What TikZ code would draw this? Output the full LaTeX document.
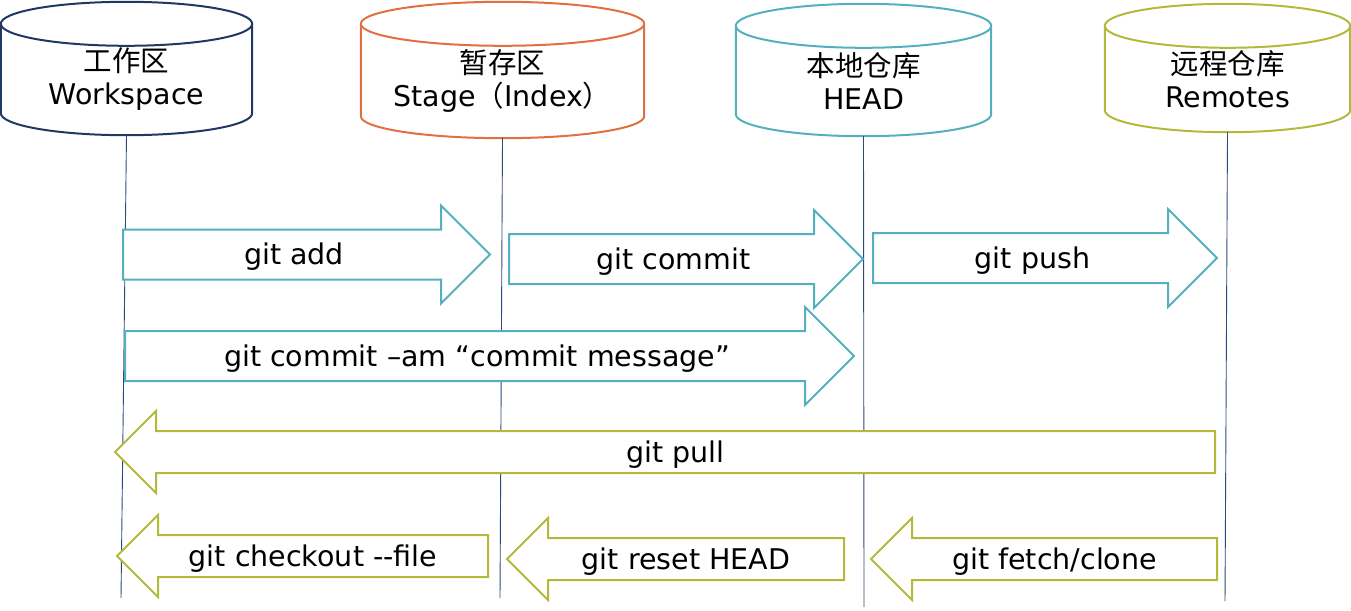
\documentclass[tikz,border=0pt]{standalone}
\usepackage{fontspec}
\setmainfont{DejaVu Sans}
\newfontfamily\cjk{Noto Sans CJK SC}
\usepackage{xcolor}
\usetikzlibrary{calc,shapes.arrows}

\definecolor{navy}{HTML}{203864}
\definecolor{lifeblue}{HTML}{2E4A78}
\definecolor{rustorange}{HTML}{E07040}
\definecolor{tealc}{HTML}{55AFBE}
\definecolor{olivec}{HTML}{B3B93A}

\begin{document}
\begin{tikzpicture}[
  x=1pt, y=-1pt,
  font=\fontsize{28.5}{33}\selectfont,
  store/.style={inner sep=0pt, align=center},
  life/.style={draw=lifeblue, line width=0.9pt},
  fwd/.style={single arrow, single arrow head extend=24pt, single arrow tip angle=90, draw=tealc, line width=2pt, fill=white,
    text height=23pt, text depth=3pt, inner ysep=11pt, inner xsep=0pt, anchor=tail},
  back/.style={single arrow, shape border rotate=180, single arrow head extend=20pt, single arrow tip angle=90, draw=olivec, line width=2pt, fill=white,
    text height=23pt, text depth=3pt, inner ysep=7pt, inner xsep=0pt, anchor=tail}
]
\useasboundingbox (0,0) rectangle (1351,610);

% the four stores (node = body below the top ellipse)
\node[store, minimum width=251pt, minimum height=111pt] (ws) at (126.5,79.5) {{\cjk 工作区}\\Workspace};
\node[store, minimum width=283pt, minimum height=114pt] (st) at (502.5,81) {{\cjk 暂存区}\\Stage{\cjk （}Index{\cjk ）}};
\node[store, minimum width=255pt, minimum height=110pt] (lr) at (863.5,81) {{\cjk 本地仓库}\\HEAD};
\node[store, minimum width=245pt, minimum height=106pt] (rm) at (1227.5,79) {{\cjk 远程仓库}\\Remotes};

\foreach \s/\c in {ws/navy, st/rustorange, lr/tealc, rm/olivec}
  \draw[line width=2pt, draw=\c]
    let \p1=(\s.north west), \p2=(\s.south east), \n1={(\x2-\x1)/2} in
    (\x1,\y1) -- (\x1,\y2+22pt)
    arc[start angle=180, end angle=360, x radius=\n1, y radius=22pt]
    -- (\x2,\y1)
    arc[start angle=0, end angle=180, x radius=\n1, y radius=22pt]
    arc[start angle=180, end angle=360, x radius=\n1, y radius=22pt];

% lifelines
\coordinate (wsend) at (121,598);
\coordinate (stend) at (500,598);
\coordinate (lrend) at (864,607);
\coordinate (rmend) at (1225,601);
\draw[life] (ws.south) -- (wsend);
\draw[life] (st.south) -- (stend);
\draw[life] (lr.south) -- (lrend);
\draw[life] (rm.south) -- (rmend);

% commands
\node[fwd, minimum height=367pt] (add) at (122,254.5) {git add};
\node[fwd, minimum height=354pt] (commit) at (508,259) {git commit};
\node[fwd, minimum height=344pt] (push) at (872,258) {git push};
\node[fwd, minimum height=729pt] (commitam) at (124,356) {git commit –am “commit message”};
\node[back, minimum height=1100pt] (pull) at (1216,452) {git pull};
\node[back, minimum height=371pt] (checkout) at (489,556) {git checkout -{}-file};
\node[back, minimum height=337pt] (reset) at (845,559) {git reset HEAD};
\node[back, minimum height=346pt] (fetch) at (1218,559) {git fetch/clone};
\end{tikzpicture}
\end{document}
